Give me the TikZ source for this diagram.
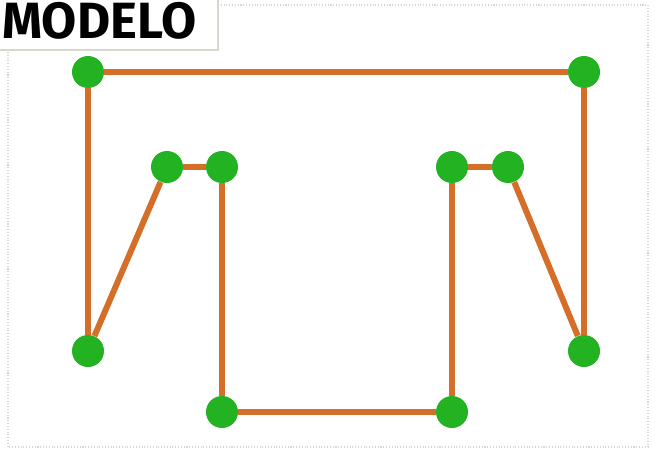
\documentclass[tikz,border=0pt]{standalone}
\usepackage{fontspec}
\setsansfont{Fira Sans}
\usetikzlibrary{positioning}

\definecolor{arancio}{RGB}{212,110,40}
\definecolor{verde}{RGB}{34,178,34}
\definecolor{bordo}{RGB}{215,215,205}

\begin{document}
\begin{tikzpicture}[x=0.02cm, y=-0.02cm]
	% Stili comuni per punti e segmenti
	\tikzset{
		punto/.style={
			circle,
			fill=verde,
			minimum size=0.64cm,
			inner sep=0pt
		},
		segmento/.style={
			draw=arancio,
			line width=3.4pt
		}
	}
	\useasboundingbox (0,0) rectangle (656,453);
	
	% Cornice e titolo
	\draw[bordo, densely dotted, line width=0.6pt] (218,5) -- (648,5) -- (648,447) -- (8,447) -- (8,50);
	\draw[bordo, line width=0.6pt, fill=white] (-2,-2) rectangle (218,50);
	\node[anchor=base west, inner sep=0pt, font=\sffamily\bfseries\fontsize{29}{29}\selectfont] (titolo) at (2,38) {MODELO};
	
	% Punti
	\node[punto] (a) at (88,72) {};
	\node[punto] (b) at (584,72) {};
	\node[punto] (c) at (167,167) {};
	\node[punto] (d) at (222,167) {};
	\node[punto] (e) at (452,167) {};
	\node[punto] (f) at (508,167) {};
	\node[punto] (g) at (88,351) {};
	\node[punto] (h) at (584,351) {};
	\node[punto] (i) at (222,412) {};
	\node[punto] (j) at (452,412) {};
	
	% Segmenti tra i punti
	\draw[segmento] (a) -- (b);
	\draw[segmento] (a) -- (g);
	\draw[segmento] (g) -- (c);
	\draw[segmento] (c) -- (d);
	\draw[segmento] (d) -- (i);
	\draw[segmento] (i) -- (j);
	\draw[segmento] (j) -- (e);
	\draw[segmento] (e) -- (f);
	\draw[segmento] (f) -- (h);
	\draw[segmento] (h) -- (b);
\end{tikzpicture}
\end{document}
